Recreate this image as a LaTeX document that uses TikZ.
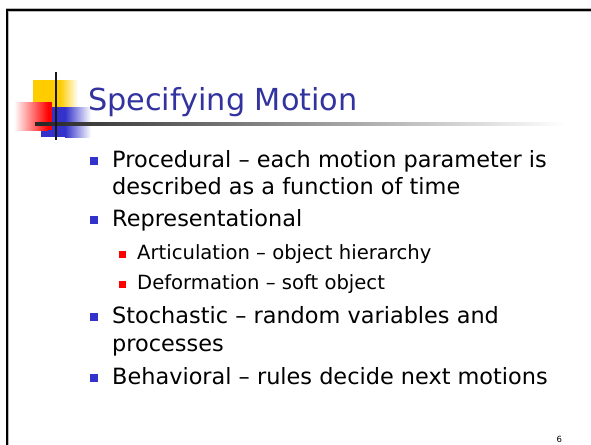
\documentclass[tikz,border=0pt]{standalone}
\usepackage{fontspec}
\setmainfont{DejaVu Sans}
\definecolor{titleblue}{RGB}{51,51,160}
\definecolor{bulletblue}{RGB}{51,51,204}
\definecolor{logoyellow}{RGB}{255,204,0}
\definecolor{logored}{RGB}{255,0,0}
\definecolor{logoblue}{RGB}{51,51,204}
\tikzset{
  lvlone/.style={anchor=base west, inner sep=0pt, font=\fontsize{22.4}{26}\selectfont, text=black},
  lvltwo/.style={anchor=base west, inner sep=0pt, font=\fontsize{19.6}{23}\selectfont, text=black},
  bulone/.style={fill=bulletblue, inner sep=0pt, minimum size=8pt},
  bultwo/.style={fill=logored, inner sep=0pt, minimum size=6.5pt},
}
\begin{document}
\begin{tikzpicture}[x=1pt,y=-1pt]
\useasboundingbox (0,0) rectangle (591,444);
\fill[white] (0,0) rectangle (591,444);
\clip (0,0) rectangle (591,444);

% slide frame (only the top and left edges fall on the page)
\draw[gray!55, line width=3.6pt] (7.3,470) |- (620,10);
\draw[black, line width=2.2pt] (7.3,470) |- (620,10);

% logo: yellow square, blue and red blocks fading out
\fill[logoyellow] (33,80) rectangle (60,124);
\shade[left color=logoyellow, right color=white] (60,80) rectangle (78,124);
\fill[logoblue] (41,107) rectangle (65,137);
\shade[left color=logoblue, right color=white] (65,107) rectangle (91,137);
\shade[left color=white, right color=logored] (14,102) rectangle (48,130);
\fill[logored] (48,102) rectangle (52,130);

% rule under the title, fading to the right
\shade[left color=black!85, right color=white] (35,122.6) rectangle (565,125.4);
% vertical bar of the logo
\draw[black!90, line width=2.6pt] (56,72) -- (56,140);

% title
\node[anchor=base west, inner sep=0pt, text=titleblue,
      font=\fontsize{30.3}{36}\selectfont] (title) at (88,110) {Specifying Motion};

% first-level bullets and text
\node[bulone] (p1) at (94,160.5) {};
\node[lvlone] (t1a) at (112,167) {Procedural – each motion parameter is};
\node[lvlone] (t1b) at (112,194) {described as a function of time};

\node[bulone] (p2) at (94,220) {};
\node[lvlone] (t2) at (112,226.5) {Representational};

% second-level bullets and text
\node[bultwo] (s1) at (122.5,254.5) {};
\node[lvltwo] (u1) at (137,259) {Articulation – object hierarchy};
\node[bultwo] (s2) at (122.5,284.5) {};
\node[lvltwo] (u2) at (137,289) {Deformation – soft object};

\node[bulone] (p3) at (94,316.5) {};
\node[lvlone] (t3a) at (112,323) {Stochastic – random variables and};
\node[lvlone] (t3b) at (112,351) {processes};

\node[bulone] (p4) at (94,377.5) {};
\node[lvlone] (t4) at (112,384) {Behavioral – rules decide next motions};

% page number
\node[anchor=base west, inner sep=0pt, font=\fontsize{8.5}{10}\selectfont] (pg) at (556.5,442) {6};
\end{tikzpicture}
\end{document}
